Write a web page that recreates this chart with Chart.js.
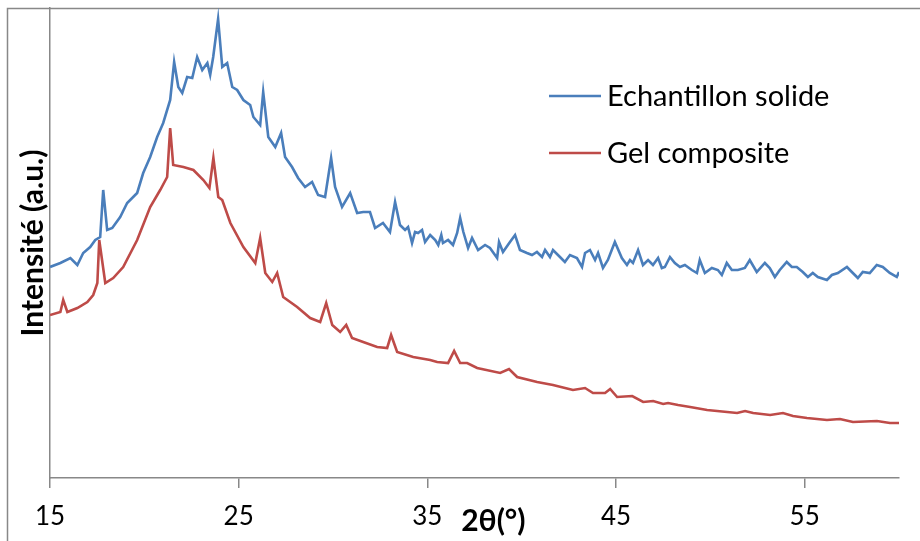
<!DOCTYPE html>
<html>
<head>
<meta charset="utf-8">
<script src="https://cdn.jsdelivr.net/npm/chart.js@4.4.1/dist/chart.umd.min.js"></script>
<style>
html,body{margin:0;padding:0;background:#fff;}
#wrap{width:920px;height:541px;position:relative;}
</style>
</head>
<body>
<div id="wrap"><canvas id="c" width="920" height="541"></canvas></div>
<script>
// 2θ (degrees) and intensity (a.u.)
const solideAngles = [15.0,15.55,16.08,16.45,16.76,17.13,17.40,17.66,17.82,18.03,18.30,18.72,19.09,19.62,19.94,20.31,20.68,21.00,21.37,21.58,21.80,22.01,22.27,22.54,22.80,23.07,23.34,23.49,23.65,23.91,24.13,24.39,24.66,24.92,25.25,25.61,25.78,26.14,26.30,26.57,26.94,27.25,27.46,27.83,28.15,28.52,28.89,29.21,29.58,29.90,30.11,30.48,30.91,31.28,31.60,31.96,32.23,32.65,33.02,33.29,
  33.55,33.82,33.98,34.19,34.35,34.51,34.72,34.88,35.15,35.42,35.58,35.74,35.83,36.10,36.36,36.58,36.74,36.91,37.16,37.37,37.69,38.06,38.32,38.70,38.80,39.01,39.38,39.65,39.91,40.28,40.55,40.81,41.08,41.24,41.50,41.66,42.03,42.29,42.56,42.93,43.20,43.36,43.62,43.89,44.05,44.31,44.57,44.94,45.31,45.58,45.74,45.90,46.17,46.43,46.70,46.96,47.23,
  47.43,47.59,47.86,48.12,48.39,48.65,49.02,49.29,49.44,49.71,50.08,50.40,50.61,50.87,51.14,51.46,51.83,52.09,52.46,52.89,53.15,53.42,53.68,54.05,54.32,54.58,54.90,55.17,55.43,55.70,56.18,56.44,56.76,57.24,57.50,57.82,58.08,58.45,58.82,59.14,59.51,59.88,60.0];
const solideIntensity = [211,215,220,213,225,231,238,241,288,248,250,261,275,285,305,321,341,355,378,416,391,385,401,400,421,408,415,403,421,459,411,415,391,388,378,373,361,353,386,341,331,345,321,311,300,291,296,283,281,320,291,271,285,265,266,266,250,255,246,276,
  253,248,251,235,246,245,248,236,243,238,233,243,235,238,233,245,260,246,230,240,228,233,230,220,236,226,236,243,228,225,223,226,221,228,221,228,221,216,223,220,211,225,228,218,225,210,218,236,220,213,218,215,228,213,218,213,220,
  210,211,221,215,211,213,208,205,218,205,210,208,203,215,208,208,210,218,206,215,210,201,208,216,211,211,206,201,205,201,198,203,205,211,206,200,206,205,213,211,205,201,206];

const gelAngles = [15.0,15.55,15.70,15.92,16.45,16.98,17.29,17.51,17.61,17.93,18.35,18.88,19.62,20.31,20.84,21.21,21.37,21.53,22.07,22.60,23.13,23.45,23.66,23.92,24.13,24.56,25.25,25.88,26.14,26.41,26.78,27.04,27.36,28.10,28.79,29.32,29.64,29.96,30.38,30.70,31.01,31.60,32.34,32.87,33.08,33.40,34.25,35.15,35.52,36.10,36.42,36.74,37.11,37.64,38.86,39.33,39.76,40.82,41.66,42.72,43.36,43.78,44.42,44.69,45.06,45.86,46.44,46.97,47.50,47.76,48.29,48.93,49.83,50.89,51.42,51.84,52.27,53.17,53.85,54.38,55.12,56.18,56.87,57.56,58.83,59.52,60.0];
const gelIntensity = [163,166,178,166,170,176,183,195,238,195,200,211,238,271,288,301,350,313,311,308,298,290,320,281,278,255,231,215,240,205,196,205,181,171,160,156,175,153,146,153,140,136,131,130,143,126,121,118,116,115,127,115,115,110,105,109,101,96,93,88,90,85,85,89,81,82,76,77,74,75,73,71,68,66,65,67,65,63,65,62,60,58,59,56,57,55,55];

const seriesNames = ['Echantillon solide', 'Gel composite'];
const seriesColors = ['#4A7EBB', '#BE4B48'];
const xTickValues = [15, 25, 35, 45, 55];
const xTitle = '2θ(°)';
const yTitle = 'Intensité (a.u.)';

const toPoints = (xs, ys) => xs.map((x, i) => ({x: x, y: ys[i]}));

const FONT = 'Lato, "Open Sans", sans-serif';

const overlay = {
  id: 'overlay',
  beforeDraw(chart) {
    const ctx = chart.ctx;
    ctx.save();
    ctx.fillStyle = '#ffffff';
    ctx.fillRect(0, 0, chart.width, chart.height);
    ctx.strokeStyle = '#888888';
    ctx.lineWidth = 1.5;
    ctx.beginPath();
    ctx.moveTo(7.5, chart.height);
    ctx.lineTo(7.5, 8.5);
    ctx.lineTo(chart.width, 8.5);
    ctx.stroke();
    ctx.restore();
  },
  afterDraw(chart) {
    const ctx = chart.ctx;
    const xs = chart.scales.x;
    ctx.save();
    // legend
    const legY = [96, 153];
    ctx.font = '29px ' + FONT;
    ctx.textBaseline = 'middle';
    ctx.textAlign = 'left';
    seriesNames.forEach((name, i) => {
      ctx.strokeStyle = seriesColors[i];
      ctx.lineWidth = 2.5;
      ctx.beginPath();
      ctx.moveTo(549, legY[i]);
      ctx.lineTo(601, legY[i]);
      ctx.stroke();
      ctx.fillStyle = '#000';
      ctx.fillText(name, 607, legY[i] + 1);
    });
    // x title
    ctx.font = 'bold 30px ' + FONT;
    ctx.textAlign = 'center';
    ctx.fillText(xTitle, xs.getPixelForValue(38.5), 521);
    // y title
    ctx.translate(33, 243);
    ctx.rotate(-Math.PI / 2);
    ctx.fillText(yTitle, 0, 0);
    ctx.restore();
  }
};

new Chart(document.getElementById('c'), {
  type: 'line',
  data: {
    datasets: [
      {label: seriesNames[0], data: toPoints(solideAngles, solideIntensity), borderColor: seriesColors[0], borderWidth: 2.6, pointRadius: 0, tension: 0, fill: false},
      {label: seriesNames[1], data: toPoints(gelAngles, gelIntensity), borderColor: seriesColors[1], borderWidth: 2.6, pointRadius: 0, tension: 0, fill: false}
    ]
  },
  options: {
    responsive: false,
    animation: false,
    layout: {padding: {left: 0, right: 21, top: 8, bottom: 0}},
    plugins: {legend: {display: false}, tooltip: {enabled: false}},
    scales: {
      x: {
        type: 'linear', min: 15, max: 60,
        afterBuildTicks(scale) { scale.ticks = xTickValues.map(v => ({value: v})); },
        afterFit(scale) { scale.height = 63; },
        grid: {drawOnChartArea: false, drawTicks: true, tickLength: 10, color: '#888888', lineWidth: 1.5},
        border: {display: true, color: '#888888', width: 1.5},
        ticks: {color: '#000', font: {family: FONT, size: 26}, padding: 13, maxRotation: 0, autoSkip: false}
      },
      y: {
        min: 0, max: 470,
        afterFit(scale) { scale.width = 50; },
        grid: {display: true, drawOnChartArea: false, drawTicks: false},
        border: {display: true, color: '#888888', width: 1.5},
        ticks: {display: false}
      }
    }
  },
  plugins: [overlay]
});
</script>
</body>
</html>
